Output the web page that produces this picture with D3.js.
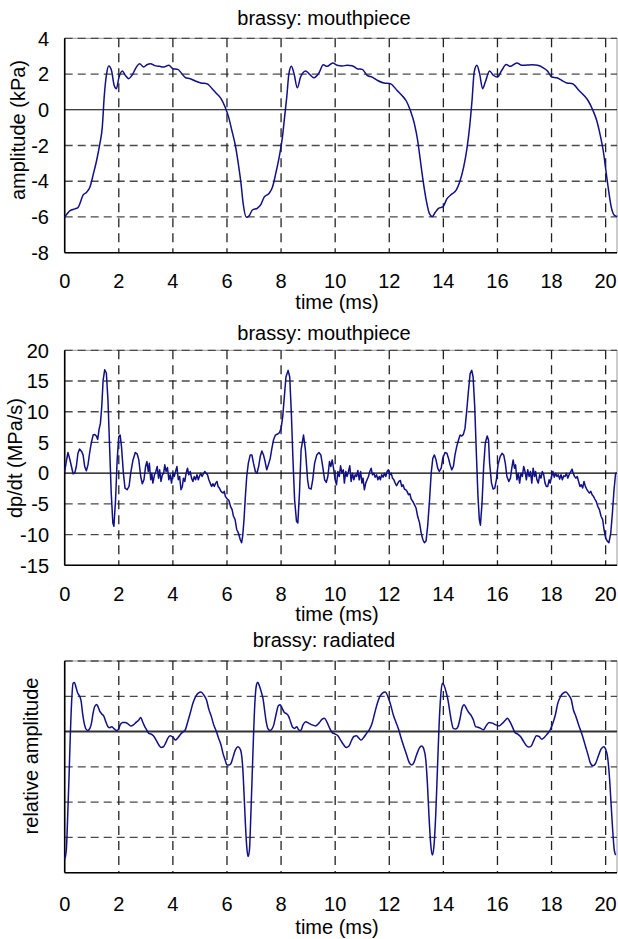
<!DOCTYPE html>
<html><head><meta charset="utf-8">
<script src="https://cdn.jsdelivr.net/npm/d3@7"></script>
<style>body{margin:0;background:#fff}svg{display:block}text{font-family:"Liberation Sans",Arial,sans-serif;fill:#000}</style>
</head><body><svg id="c" width="618" height="939"></svg>
<script>
// ---------- data ----------
const xTicks = [0,2,4,6,8,10,12,14,16,18,20];
const p1Ticks = [-8,-6,-4,-2,0,2,4];
const p2Ticks = [-15,-10,-5,0,5,10,15,20];
const p3Ticks = [-4,-3,-2,-1,0,1,2];
const titles = ["brassy: mouthpiece","brassy: mouthpiece","brassy: radiated"];
const yLabels = ["amplitude (kPa)","dp/dt (MPa/s)","relative amplitude"];

// panel 1: mouthpiece pressure (kPa)
const p1t = [0,0.2,0.38,0.5,0.69,0.81,0.93,1.06,1.18,1.3,1.39,1.46,1.55,1.63,1.73,1.83,1.91,2.01,2.13,2.24,2.37,2.5,2.65,2.77,2.92,3.04,3.17,3.33,3.51,3.66,3.85,4.0,4.18,4.31,4.47,4.64,4.83,5.04,5.26,5.45,5.62,5.78,5.93,6.06,6.18,6.31,6.42,6.52,6.6,6.72,6.82,6.94,7.13,7.25,7.37,7.56,7.68,7.8,7.93,8.05,8.13,8.21,8.29,8.38,8.48,8.6,8.72,8.91,9.03,9.21,9.4,9.56,9.7,9.91,10.07,10.26,10.44,10.63,10.81,11.0,11.18,11.37,11.57,11.8,12.04,12.29,12.47,12.63,12.78,12.93,13.05,13.15,13.25,13.37,13.49,13.59,13.7,13.83,13.99,14.13,14.32,14.48,14.6,14.75,14.87,14.97,15.06,15.14,15.24,15.34,15.45,15.55,15.71,15.85,16.0,16.16,16.32,16.47,16.72,16.9,17.08,17.29,17.48,17.68,17.85,18.01,18.19,18.38,18.56,18.78,18.99,19.2,19.36,19.52,19.67,19.79,19.91,20.01,20.11,20.21,20.34,20.43];
const p1v = [-6.0,-5.65,-5.55,-5.45,-4.75,-4.62,-4.34,-3.59,-2.84,-1.9,-0.97,0.71,2.02,2.45,2.2,1.36,1.18,1.83,2.17,1.93,1.74,1.96,2.39,2.58,2.39,2.52,2.58,2.47,2.43,2.39,2.49,2.3,2.26,2.06,1.79,1.74,1.61,1.5,1.46,1.18,0.9,0.62,0.15,-0.41,-1.16,-2.0,-3.03,-4.15,-5.27,-6.02,-5.93,-5.61,-5.5,-5.31,-4.9,-4.67,-4.34,-3.59,-2.65,-1.53,-0.41,0.71,2.02,2.43,2.02,1.23,1.83,2.17,2.02,1.79,2.06,2.52,2.43,2.62,2.49,2.45,2.49,2.47,2.3,2.26,1.93,1.83,1.64,1.5,1.46,1.08,0.8,0.49,-0.04,-0.79,-1.72,-2.84,-3.96,-5.08,-5.83,-5.98,-5.74,-5.51,-5.42,-4.99,-4.71,-4.49,-4.06,-3.21,-2.19,-0.97,0.52,2.11,2.49,2.02,1.18,1.55,2.17,1.93,1.83,2.21,2.54,2.43,2.62,2.49,2.5,2.52,2.49,2.36,2.17,1.83,1.79,1.64,1.5,1.46,1.12,0.8,0.49,0.0,-0.6,-1.35,-2.28,-3.4,-4.52,-5.46,-5.93,-5.98];

// panel 2: time derivative (MPa/s)
const p2t = [0,0.06,0.12,0.18,0.25,0.31,0.37,0.43,0.49,0.55,0.63,0.68,0.74,0.8,0.86,0.92,0.98,1.05,1.11,1.17,1.22,1.27,1.32,1.37,1.42,1.48,1.54,1.6,1.66,1.72,1.78,1.82,1.88,1.94,2.0,2.05,2.1,2.17,2.23,2.31,2.38,2.44,2.52,2.61,2.68,2.74,2.81,2.87,2.93,2.99,3.04,3.09,3.13,3.18,3.22,3.26,3.32,3.37,3.42,3.47,3.51,3.56,3.61,3.66,3.7,3.75,3.8,3.85,3.9,3.95,4.0,4.05,4.1,4.15,4.2,4.25,4.3,4.35,4.39,4.44,4.49,4.54,4.59,4.64,4.69,4.74,4.79,4.84,4.89,4.94,4.98,5.03,5.08,5.13,5.18,5.23,5.28,5.33,5.38,5.43,5.48,5.53,5.58,5.63,5.67,5.72,5.78,5.85,5.9,5.94,6.01,6.07,6.13,6.19,6.24,6.3,6.36,6.42,6.49,6.54,6.58,6.63,6.68,6.73,6.79,6.86,6.92,6.98,7.05,7.11,7.17,7.23,7.29,7.35,7.41,7.47,7.53,7.6,7.66,7.72,7.79,7.87,7.94,8.0,8.06,8.12,8.18,8.26,8.32,8.38,8.44,8.5,8.57,8.62,8.68,8.74,8.83,8.9,8.98,9.03,9.11,9.17,9.24,9.32,9.4,9.47,9.54,9.61,9.67,9.73,9.79,9.84,9.89,9.95,10.0,10.05,10.1,10.15,10.2,10.25,10.3,10.34,10.39,10.44,10.49,10.54,10.59,10.64,10.69,10.74,10.79,10.84,10.89,10.94,10.99,11.03,11.08,11.13,11.18,11.23,11.28,11.33,11.38,11.43,11.48,11.53,11.58,11.63,11.67,11.72,11.77,11.82,11.87,11.92,11.97,12.02,12.07,12.12,12.17,12.22,12.27,12.32,12.36,12.41,12.46,12.51,12.56,12.61,12.66,12.71,12.76,12.81,12.87,12.93,12.99,13.05,13.12,13.18,13.24,13.3,13.36,13.42,13.49,13.55,13.61,13.67,13.73,13.79,13.85,13.92,13.98,14.06,14.13,14.19,14.25,14.31,14.37,14.43,14.5,14.56,14.62,14.68,14.74,14.8,14.86,14.93,14.99,15.05,15.1,15.16,15.22,15.28,15.33,15.37,15.43,15.49,15.55,15.62,15.67,15.71,15.78,15.84,15.9,15.96,16.02,16.1,16.17,16.23,16.29,16.35,16.42,16.48,16.53,16.58,16.63,16.67,16.72,16.77,16.82,16.87,16.92,16.97,17.02,17.07,17.12,17.17,17.22,17.27,17.32,17.37,17.41,17.46,17.51,17.56,17.61,17.66,17.71,17.76,17.81,17.86,17.91,17.95,18.0,18.05,18.1,18.15,18.2,18.25,18.3,18.35,18.4,18.45,18.5,18.55,18.6,18.65,18.69,18.76,18.8,18.85,18.9,18.95,19.0,19.05,19.1,19.15,19.2,19.25,19.3,19.35,19.4,19.45,19.5,19.55,19.6,19.65,19.71,19.77,19.83,19.89,19.94,20.0,20.06,20.12,20.19,20.25,20.31,20.37,20.42];
const p2v = [0.27,1.9,3.35,2.43,1.08,-0.1,0,1.08,3.24,3.94,3.5,2.97,1.08,0.38,1.35,3.24,4.86,6.2,6.3,6.04,5.5,7.12,8.1,10.8,15.1,16.84,16.3,11.87,4.32,-3.24,-8.1,-8.63,-4.32,2.16,5.94,6.2,4.32,0,-2.43,-2.7,-2.16,0,2.05,3.35,3.13,2.16,-0.54,-1.73,-1.08,1.08,1.89,0.27,1.62,-1.08,0,-1.62,-0.27,0.27,1.08,-0.81,0.54,-1.35,-0.27,0,1.35,0.27,0.92,-1.08,-0.27,-1.62,0,-0.54,0.27,1.08,-1.08,-0.54,-2.7,-2.16,-0.81,-1.35,0,0.81,-0.27,0.27,-0.81,-1.35,-0.54,-1.08,-0.27,-1.08,-0.54,0,-0.54,-0.1,0.27,0,-0.27,-1.08,-1.62,-2.16,-1.73,-2.16,-1.62,-1.35,-2.16,-2.43,-2.97,-3.24,-2.97,-3.78,-4.21,-4.43,-5.4,-5.94,-7.02,-7.56,-9.17,-9.71,-10.8,-11.33,-10.25,-7.56,-3.78,-0.54,1.62,2.97,2.97,1.62,0.27,0,1.08,2.7,3.62,2.97,1.89,0.54,1.35,2.43,4.05,5.4,6.2,6.37,6.58,7.29,9.17,12.4,15.65,16.73,15.65,9.71,2.16,-4.32,-7.83,-8.1,-3.24,3.78,6.2,3.78,-1.08,-2.43,-2.59,-1.08,1.62,2.97,3.35,2.97,1.08,-1.08,-1.51,-0.54,1.89,1.08,2.16,0.54,-1.08,-1.89,0.27,-0.54,1.19,0,0.54,-1.62,0.27,-0.54,0.27,1.19,-1.35,0,-1.08,-0.27,-0.54,0.43,-1.08,0.27,-1.62,-0.81,-2.7,-1.62,-1.08,-0.54,0.27,0.81,-0.27,0,-0.65,-0.27,-1.08,-0.54,-1.08,-0.27,-0.65,0,-0.54,0.27,0.54,-0.27,0,-0.81,-1.08,-1.62,-2.05,-1.62,-1.35,-1.19,-2.16,-1.89,-2.59,-2.7,-2.97,-3.51,-3.35,-4.21,-4.59,-5.13,-5.67,-7.02,-8.1,-9.71,-10.8,-11.33,-11.06,-8.63,-4.32,0,2.43,2.97,2.16,0.81,0.27,0.81,2.43,3.35,3.24,2.43,1.35,0.54,1.08,2.97,4.43,5.4,6.2,6.04,6.31,7.29,9.98,13.49,16.19,16.73,15.65,10.79,3.24,-3.78,-7.56,-8.47,-4.86,1.08,4.86,6.04,5.4,1.62,-1.62,-2.59,-2.43,-1.08,1.35,2.7,3.24,2.97,1.62,-0.54,-1.35,-0.81,0.81,2.16,0.81,1.35,-1.08,0,-1.62,0,-0.54,1.08,0.27,-1.08,0.54,-0.54,0.27,-1.62,0.81,-0.54,0.27,-1.08,-1.62,-0.27,-0.81,0.27,-0.27,-1.62,-2.16,-2.16,-1.08,-1.62,-0.54,0.27,-0.65,0,-0.54,-0.27,-0.97,-0.27,-1.08,-0.43,-0.54,0,-0.81,-0.27,0.1,0.65,0,-0.54,-0.81,-0.54,-1.35,-2.16,-1.89,-2.43,-1.35,-2.16,-2.59,-2.97,-3.24,-2.97,-3.51,-3.78,-4.21,-4.59,-5.4,-5.94,-7.02,-7.56,-9.17,-10.52,-11.06,-11.33,-9.71,-6.48,-2.7,0,0];

// panel 3: radiated (relative)
const p3t = [0,0.06,0.11,0.16,0.21,0.26,0.31,0.36,0.41,0.48,0.56,0.61,0.66,0.72,0.78,0.85,0.93,0.99,1.05,1.11,1.18,1.24,1.3,1.37,1.45,1.52,1.6,1.67,1.74,1.81,1.87,1.93,1.99,2.05,2.14,2.24,2.34,2.44,2.54,2.64,2.74,2.81,2.88,2.96,3.03,3.11,3.19,3.28,3.38,3.48,3.56,3.65,3.73,3.81,3.9,4.0,4.1,4.2,4.29,4.39,4.47,4.55,4.64,4.74,4.84,4.94,5.04,5.14,5.24,5.33,5.42,5.51,5.61,5.69,5.78,5.85,5.93,6.0,6.08,6.15,6.23,6.31,6.4,6.47,6.53,6.58,6.63,6.68,6.73,6.78,6.83,6.88,6.93,6.98,7.03,7.09,7.14,7.2,7.28,7.34,7.39,7.45,7.51,7.59,7.66,7.73,7.81,7.9,7.97,8.04,8.12,8.21,8.28,8.35,8.43,8.5,8.58,8.65,8.73,8.81,8.91,9.02,9.15,9.27,9.4,9.52,9.6,9.7,9.8,9.89,10.0,10.1,10.2,10.3,10.41,10.51,10.6,10.69,10.79,10.88,10.96,11.06,11.16,11.26,11.36,11.46,11.56,11.65,11.75,11.85,11.95,12.05,12.15,12.25,12.35,12.44,12.54,12.64,12.74,12.83,12.91,13.01,13.11,13.2,13.28,13.35,13.41,13.47,13.53,13.59,13.65,13.72,13.78,13.84,13.9,13.96,14.02,14.1,14.17,14.23,14.3,14.37,14.46,14.54,14.62,14.69,14.77,14.85,14.94,15.04,15.11,15.19,15.28,15.38,15.48,15.58,15.69,15.81,15.94,16.06,16.19,16.3,16.37,16.46,16.56,16.65,16.75,16.85,16.95,17.05,17.15,17.25,17.35,17.44,17.54,17.64,17.74,17.84,17.94,18.04,18.14,18.23,18.33,18.43,18.53,18.63,18.73,18.81,18.9,19.0,19.09,19.17,19.26,19.35,19.43,19.53,19.63,19.73,19.83,19.93,20.01,20.07,20.14,20.2,20.26,20.32,20.37];
const p3v = [-3.62,-3.36,-2.41,-1.28,-0.05,0.9,1.37,1.39,1.28,1.09,0.99,0.85,0.52,0.24,0.08,0.03,0.09,0.24,0.52,0.71,0.77,0.69,0.57,0.5,0.43,0.28,0.14,0.11,0.14,0.09,0.05,0.03,0.07,0.19,0.26,0.26,0.22,0.16,0.19,0.26,0.33,0.4,0.28,0.14,0.05,-0.05,-0.07,-0.12,-0.24,-0.38,-0.45,-0.43,-0.33,-0.19,-0.12,-0.16,-0.24,-0.16,-0.07,0,0.07,0.28,0.52,0.8,0.99,1.09,1.12,1.04,0.9,0.63,0.43,0.19,0,-0.19,-0.38,-0.61,-0.8,-0.95,-0.95,-0.9,-0.71,-0.52,-0.43,-0.47,-0.61,-0.99,-1.75,-2.6,-3.26,-3.54,-3.36,-2.41,-1.28,-0.14,0.8,1.32,1.4,1.29,1.09,0.9,0.61,0.28,0.09,0.03,0.07,0.19,0.47,0.73,0.76,0.66,0.54,0.5,0.43,0.28,0.12,0.09,0.14,0.05,0.03,0.19,0.28,0.24,0.19,0.16,0.24,0.35,0.38,0.26,0.09,-0.03,-0.07,-0.12,-0.24,-0.36,-0.45,-0.41,-0.26,-0.14,-0.12,-0.19,-0.24,-0.16,-0.05,0.05,0.22,0.52,0.8,0.99,1.09,1.12,0.99,0.76,0.47,0.26,0.05,-0.19,-0.43,-0.66,-0.88,-0.95,-0.88,-0.66,-0.47,-0.41,-0.5,-0.8,-1.47,-2.41,-3.17,-3.5,-3.26,-2.32,-1.09,0.14,0.99,1.37,1.32,1.13,0.9,0.61,0.28,0.09,0.07,0.14,0.38,0.66,0.76,0.66,0.54,0.44,0.33,0.14,0.12,0.09,0.05,0.16,0.26,0.24,0.19,0.16,0.24,0.33,0.38,0.28,0.12,-0.03,-0.07,-0.14,-0.26,-0.38,-0.44,-0.41,-0.24,-0.12,-0.14,-0.22,-0.16,-0.07,0.03,0.22,0.47,0.8,0.99,1.09,1.12,1.04,0.9,0.61,0.43,0.19,0,-0.19,-0.43,-0.66,-0.88,-0.97,-0.9,-0.69,-0.5,-0.43,-0.52,-0.71,-1.28,-2.03,-2.79,-3.36,-3.5];

// ---------- drawing ----------
const svg = d3.select("#c");
const FONT = 20;
const x = d3.scaleLinear().domain([0, 20.42]).range([64.7, 617]);

const panels = [
  {t:p1t, v:p1v, ticks:p1Ticks, dom:[-8,4], top:38.3, bottom:252.7, labels:true, curve:d3.curveMonotoneX,
   titleY:25, ylab:{x:25,y:130}, xlabY:287.5, xtitleY:309},
  {t:p2t, v:p2v, ticks:p2Ticks, dom:[-15,20], top:350.3, bottom:565.3, labels:true, curve:d3.curveLinear,
   titleY:340, ylab:{x:22,y:458}, xlabY:600.5, xtitleY:621},
  {t:p3t, v:p3v, ticks:p3Ticks, dom:[-4,2], top:661, bottom:872.7, labels:false, curve:d3.curveMonotoneX,
   titleY:647, ylab:{x:38,y:756}, xlabY:911, xtitleY:934}
];

panels.forEach((p, i) => {
  const y = d3.scaleLinear().domain(p.dom).range([p.bottom, p.top]);
  const g = svg.append("g");
  const [x0, x1] = x.range();

  g.append("rect").attr("x", x0).attr("y", p.top).attr("width", x1 - x0).attr("height", p.bottom - p.top)
    .attr("fill", "none").attr("stroke", "#999").attr("stroke-width", 1);

  g.selectAll(".hg").data(p.ticks.filter(d => d !== 0 && d !== p.dom[0])).join("line")
    .attr("x1", x0).attr("x2", x1).attr("y1", d => y(d)).attr("y2", d => y(d))
    .attr("stroke", "#4a4a4a").attr("stroke-width", 1.3).attr("stroke-dasharray", "8,5");
  g.selectAll(".vg").data(xTicks.filter(d => d > 0)).join("line")
    .attr("x1", d => x(d)).attr("x2", d => x(d)).attr("y1", p.top).attr("y2", p.bottom)
    .attr("stroke", "#222").attr("stroke-width", 1.3).attr("stroke-dasharray", "9,6");

  g.append("line").attr("x1", x0).attr("x2", x1).attr("y1", y(0)).attr("y2", y(0))
    .attr("stroke", i === 2 ? "#333" : "#000").attr("stroke-width", i === 2 ? 2 : 1.2);

  g.append("line").attr("x1", x0).attr("x2", x0).attr("y1", p.top).attr("y2", p.bottom).attr("stroke", "#000").attr("stroke-width", 1.6);
  g.append("line").attr("x1", x0).attr("x2", x1).attr("y1", p.bottom).attr("y2", p.bottom).attr("stroke", "#000").attr("stroke-width", 1.6);

  const pts = p.t.map((t, k) => [t, p.v[k]]);
  g.append("path").datum(pts)
    .attr("d", d3.line().x(d => x(d[0])).y(d => y(d[1])).curve(p.curve))
    .attr("fill", "none").attr("stroke", "#101088").attr("stroke-width", 1.5).attr("stroke-linejoin", "round");

  if (p.labels) {
    g.selectAll(".yl").data(p.ticks).join("text")
      .attr("x", 49).attr("y", d => y(d)).attr("dy", "0.36em").attr("text-anchor", "end")
      .attr("font-size", FONT).text(d => d);
  }
  g.selectAll(".xl").data(xTicks).join("text")
    .attr("x", d => x(d)).attr("y", p.xlabY).attr("text-anchor", "middle")
    .attr("font-size", FONT).text(d => d);

  g.append("text").attr("x", 324).attr("y", p.titleY).attr("text-anchor", "middle").attr("font-size", FONT).text(titles[i]);
  g.append("text").attr("x", 337).attr("y", p.xtitleY).attr("text-anchor", "middle").attr("font-size", FONT).text("time (ms)");
  g.append("text").attr("transform", `translate(${p.ylab.x},${p.ylab.y}) rotate(-90)`)
    .attr("text-anchor", "middle").attr("font-size", FONT).text(yLabels[i]);
});
</script></body></html>
